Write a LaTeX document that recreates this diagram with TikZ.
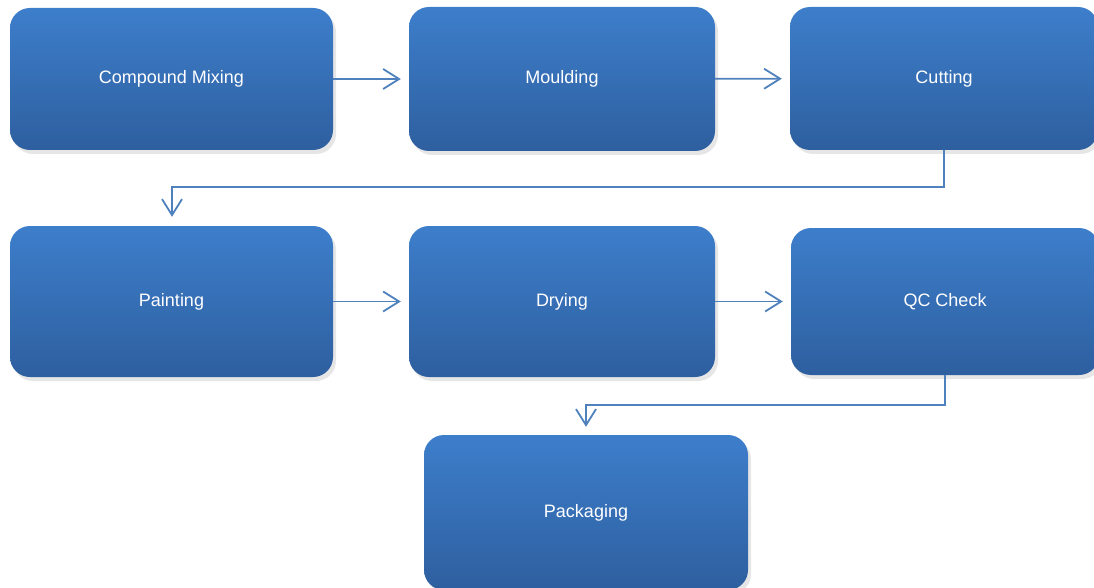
\documentclass[tikz,border=0pt]{standalone}
\usepackage{fontspec}
\setmainfont{Liberation Sans}
\usetikzlibrary{arrows.meta,shadows}

\definecolor{boxtop}{HTML}{3D7ECB}
\definecolor{boxbot}{HTML}{2E5F9F}
\definecolor{flow}{HTML}{4F81BD}

\tikzset{
  stage/.style={rectangle,rounded corners=20pt,top color=boxtop,bottom color=boxbot,
    draw=none,text=white,font=\fontsize{18}{21}\selectfont,
    drop shadow={shadow xshift=3pt,shadow yshift=-4pt,opacity=0.2}},
  flowline/.style={draw=flow,line width=1.8pt}
}

\begin{document}
\begin{tikzpicture}[x=1pt,y=-1pt,->,>={Straight Barb[length=16pt,width=20pt,line width=1.8pt]}]

  \useasboundingbox (0,0) rectangle (1094,588);

  \node[stage,minimum width=323pt,minimum height=142pt] (mix) at (171.5,79) {Compound Mixing};
  \node[stage,minimum width=306pt,minimum height=144pt] (mould) at (562,79) {Moulding};
  \node[stage,minimum width=308pt,minimum height=143pt] (cut) at (944,78.5) {Cutting};
  \node[stage,minimum width=323pt,minimum height=151pt] (paint) at (171.5,301.5) {Painting};
  \node[stage,minimum width=306pt,minimum height=151pt] (dry) at (562,301.5) {Drying};
  \node[stage,minimum width=308pt,minimum height=147pt] (qc) at (945,301.5) {QC Check};
  \node[stage,minimum width=324pt,minimum height=155pt] (pack) at (586,512.5) {Packaging};

  % bends of the two return lines
  \coordinate (bendA) at (172,187);
  \coordinate (bendB) at (586,405);

  \path[flowline,shorten >=8pt] (mix) -- (mould);
  \path[flowline,shorten >=8pt] (mould) -- (cut);
  \path[flowline,shorten >=9pt] (cut.south) |- (bendA) -- (bendA |- paint.north);
  \path[flowline,shorten >=8pt] (paint) -- (dry);
  \path[flowline,shorten >=8pt] (dry) -- (qc);
  \path[flowline,shorten >=8pt] (qc.south) |- (bendB) -- (pack.north);

\end{tikzpicture}
\end{document}
